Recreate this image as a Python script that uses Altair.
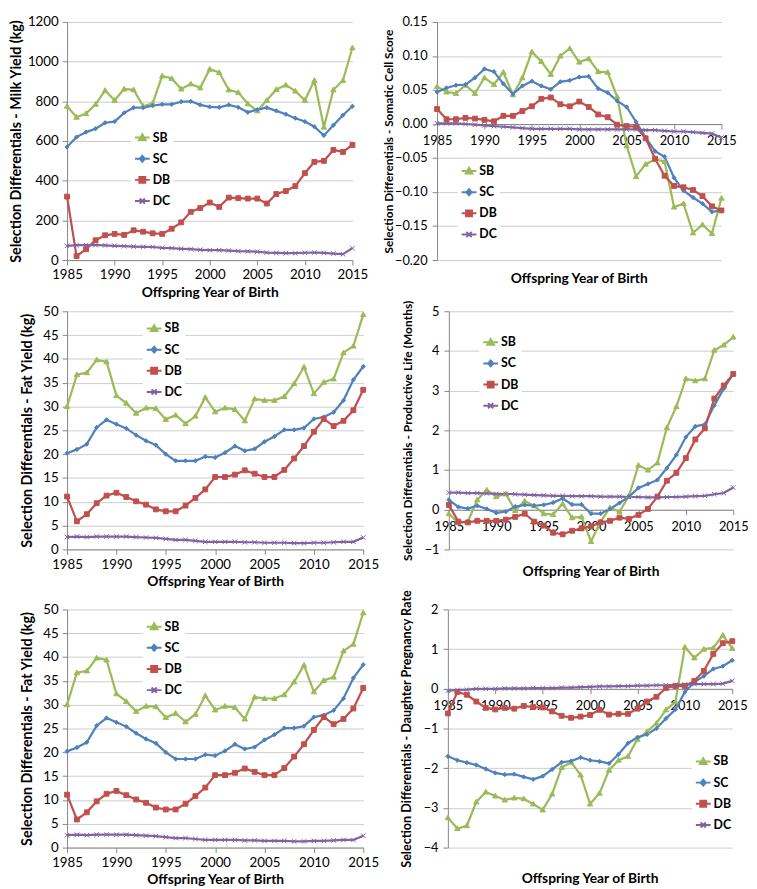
import altair as alt
import pandas as pd

YEARS = list(range(1985, 2016))
SERIES = ["SB", "SC", "DB", "DC"]
COLORS = ["#9BBB59", "#4F81BD", "#C0504D", "#8064A2"]
X_TICKS = [1985, 1990, 1995, 2000, 2005, 2010, 2015]

MILK_SB = [775, 720, 738, 785, 855, 805, 862, 858, 775, 790, 928, 915, 862, 888, 868, 962, 945, 858, 845, 788, 752, 805, 860, 882, 852, 805, 905, 670, 858, 905, 1070]
MILK_SC = [570, 620, 645, 662, 692, 698, 742, 768, 768, 778, 785, 785, 798, 800, 782, 772, 770, 782, 770, 745, 758, 768, 752, 735, 715, 698, 672, 628, 680, 730, 775]
MILK_DB = [320, 20, 55, 100, 125, 132, 127, 150, 143, 135, 132, 158, 190, 243, 262, 290, 268, 315, 312, 310, 310, 285, 333, 348, 373, 438, 495, 500, 555, 545, 580]
MILK_DC = [72, 75, 75, 76, 74, 72, 70, 68, 67, 66, 62, 60, 57, 55, 52, 50, 50, 48, 45, 44, 42, 38, 36, 35, 35, 37, 38, 36, 33, 30, 60]

SCS_SB = [0.055, 0.047, 0.045, 0.057, 0.045, 0.068, 0.058, 0.076, 0.043, 0.068, 0.106, 0.092, 0.073, 0.100, 0.111, 0.091, 0.096, 0.077, 0.076, 0.040, -0.032, -0.077, -0.059, -0.052, -0.055, -0.122, -0.117, -0.160, -0.148, -0.161, -0.109]
SCS_SC = [0.047, 0.053, 0.057, 0.058, 0.068, 0.081, 0.077, 0.059, 0.044, 0.056, 0.063, 0.056, 0.051, 0.062, 0.064, 0.069, 0.070, 0.052, 0.046, 0.034, 0.025, 0.003, -0.020, -0.040, -0.048, -0.079, -0.098, -0.108, -0.117, -0.129, -0.127]
SCS_DB = [0.022, 0.007, 0.007, 0.009, 0.008, 0.006, 0.004, 0.012, 0.012, 0.019, 0.026, 0.037, 0.039, 0.029, 0.026, 0.033, 0.025, 0.014, 0.010, -0.001, -0.003, -0.004, -0.021, -0.051, -0.076, -0.091, -0.093, -0.097, -0.106, -0.121, -0.127]
SCS_DC = [0.001, 0.001, 0.001, 0.000, -0.001, -0.002, -0.003, -0.004, -0.005, -0.006, -0.007, -0.007, -0.007, -0.007, -0.007, -0.008, -0.008, -0.008, -0.008, -0.008, -0.008, -0.008, -0.009, -0.009, -0.010, -0.011, -0.011, -0.012, -0.013, -0.014, -0.020]

FAT_SB = [30.0, 36.7, 37.1, 39.8, 39.4, 32.3, 30.7, 28.6, 29.7, 29.6, 27.3, 28.2, 26.4, 28.0, 31.9, 28.9, 29.7, 29.4, 27.0, 31.6, 31.3, 31.3, 32.1, 34.8, 38.3, 32.7, 35.1, 35.8, 41.3, 42.7, 49.3]
FAT_SC = [20.2, 21.0, 22.1, 25.6, 27.2, 26.3, 25.4, 24.0, 22.8, 21.9, 20.0, 18.6, 18.6, 18.6, 19.5, 19.3, 20.3, 21.7, 20.7, 21.1, 22.6, 23.7, 25.1, 25.1, 25.5, 27.4, 27.8, 28.8, 31.3, 35.6, 38.4]
FAT_DB = [11.1, 5.9, 7.4, 9.7, 11.3, 11.9, 11.0, 10.1, 9.4, 8.4, 8.0, 8.0, 9.2, 10.8, 12.6, 15.2, 15.2, 15.7, 16.6, 15.9, 15.2, 15.2, 16.7, 19.1, 21.7, 24.7, 27.4, 25.9, 27.0, 29.2, 33.5]
FAT_DC = [2.6, 2.7, 2.6, 2.7, 2.7, 2.7, 2.7, 2.6, 2.5, 2.4, 2.2, 2.0, 2.0, 1.8, 1.6, 1.6, 1.6, 1.6, 1.5, 1.5, 1.4, 1.4, 1.4, 1.3, 1.3, 1.4, 1.4, 1.5, 1.6, 1.6, 2.5]

PL_SB = [-0.1, -0.33, -0.3, 0.25, 0.5, 0.33, 0.4, -0.02, 0.22, 0.1, -0.1, -0.12, 0.15, -0.2, -0.18, -0.8, -0.3, 0.05, -0.05, 0.35, 1.12, 1.0, 1.18, 2.07, 2.6, 3.3, 3.25, 3.3, 4.02, 4.15, 4.35]
PL_SC = [0.25, 0.07, 0.03, 0.1, 0.02, -0.08, -0.05, 0.08, 0.12, 0.1, 0.12, 0.18, 0.28, 0.13, 0.13, -0.1, -0.1, 0.02, 0.17, 0.33, 0.55, 0.65, 0.75, 1.05, 1.38, 1.83, 2.1, 2.15, 2.63, 3.05, 3.42]
PL_DB = [0.12, -0.3, -0.32, -0.28, -0.28, -0.28, -0.25, -0.18, -0.1, -0.3, -0.4, -0.58, -0.62, -0.53, -0.47, -0.42, -0.32, -0.28, -0.2, -0.23, -0.13, 0.02, 0.33, 0.73, 0.93, 1.3, 1.77, 2.05, 2.8, 3.13, 3.42]
PL_DC = [0.43, 0.43, 0.42, 0.42, 0.41, 0.4, 0.4, 0.39, 0.38, 0.37, 0.36, 0.35, 0.35, 0.34, 0.34, 0.34, 0.33, 0.33, 0.33, 0.32, 0.32, 0.31, 0.31, 0.32, 0.32, 0.33, 0.34, 0.35, 0.39, 0.42, 0.56]

DPR_SB = [-3.25, -3.52, -3.45, -2.85, -2.6, -2.7, -2.8, -2.75, -2.77, -2.9, -3.05, -2.65, -1.98, -1.85, -2.17, -2.9, -2.63, -2.05, -1.8, -1.7, -1.27, -1.08, -0.87, -0.53, -0.33, 1.05, 0.78, 1.0, 1.03, 1.35, 1.02]
DPR_SC = [-1.7, -1.8, -1.86, -1.92, -2.02, -2.12, -2.16, -2.15, -2.22, -2.28, -2.2, -2.03, -1.85, -1.82, -1.73, -1.8, -1.83, -1.88, -1.65, -1.37, -1.22, -1.15, -1.0, -0.75, -0.52, -0.08, 0.17, 0.32, 0.5, 0.57, 0.72]
DPR_DB = [-0.62, -0.08, -0.15, -0.32, -0.48, -0.52, -0.48, -0.5, -0.43, -0.46, -0.47, -0.57, -0.68, -0.73, -0.7, -0.66, -0.53, -0.65, -0.63, -0.63, -0.5, -0.32, -0.2, 0.02, 0.07, 0.07, 0.2, 0.45, 0.88, 1.15, 1.2]
DPR_DC = [-0.05, -0.03, -0.02, 0.0, 0.0, 0.0, 0.01, 0.01, 0.01, 0.02, 0.02, 0.02, 0.03, 0.03, 0.04, 0.05, 0.06, 0.06, 0.07, 0.07, 0.08, 0.08, 0.09, 0.09, 0.1, 0.11, 0.12, 0.12, 0.12, 0.13, 0.2]

# marker shapes (unit paths) and legend symbols (line + marker)
POINT_SHAPES = [
    "M0,-1L1,0.75L-1,0.75Z",
    "M0,-0.8L0.75,0L0,0.8L-0.75,0Z",
    "M-0.9,-0.9H0.9V0.9H-0.9Z",
    "M-0.85,-0.85L0.85,0.85M-0.85,0.85L0.85,-0.85",
]
LEGEND_SHAPES = [
    "M-1,0H1M0,-0.45L0.45,0.35L-0.45,0.35Z",
    "M-1,0H1M0,-0.4L0.35,0L0,0.4L-0.35,0Z",
    "M-1,0H1M-0.4,-0.4H0.4V0.4H-0.4Z",
    "M-1,0H1M-0.35,-0.35L0.35,0.35M-0.35,0.35L0.35,-0.35",
]

FONT = "Lato"
AXIS_GRAY = "#868686"
GRID_GRAY = "#CCCCCC"
H = 242
XTITLE = "Offspring Year of Birth"


def make_df(series_values):
    rows = []
    for name, vals in zip(SERIES, series_values):
        for yr, v in zip(YEARS, vals):
            rows.append({"year": yr, "series": name, "value": v})
    return pd.DataFrame(rows)


def panel(series_values, ytitle, ydomain, yvalues, yfmt, width, legend_x, legend_y,
          y_extent, y_title_pad, ytitle_size=14.5, label_size=13.5, zero_axis=False):
    df = make_df(series_values)
    ymin, ymax = ydomain
    xaxis_kw = dict(values=X_TICKS, format="d", grid=False, tickSize=5, labelFlush=False,
                    labelFontSize=label_size, domainColor=AXIS_GRAY,
                    tickColor=AXIS_GRAY, labelColor="black")
    if zero_axis:
        xaxis = alt.Axis(title=None, offset=-H * (0 - ymin) / (ymax - ymin), labelPadding=6,
                         **xaxis_kw)
        ylab_pad = 5
    else:
        xaxis = alt.Axis(title=XTITLE, titlePadding=4, titleFontSize=14, labelPadding=3,
                         **xaxis_kw)
        ylab_pad = 4
    x = alt.X("year:Q", scale=alt.Scale(domain=[1985, 2015], nice=False, zero=False), axis=xaxis)
    y = alt.Y("value:Q", scale=alt.Scale(domain=list(ydomain), nice=False, zero=False),
              axis=alt.Axis(values=yvalues, format=yfmt, title=ytitle, titleFontSize=ytitle_size,
                            grid=True, gridColor=GRID_GRAY, tickSize=5, labelPadding=ylab_pad,
                            labelFontSize=label_size, minExtent=y_extent, maxExtent=y_extent,
                            titlePadding=y_title_pad, domainColor=AXIS_GRAY, tickColor=AXIS_GRAY,
                            labelColor="black"))
    cscale = alt.Scale(domain=SERIES, range=COLORS)
    base = alt.Chart(df)
    lines = base.mark_line(strokeWidth=2.25).encode(
        x=x, y=y, color=alt.Color("series:N", scale=cscale, legend=None, sort=SERIES),
        order=alt.Order("year:Q"))
    points = base.mark_point(opacity=1, size=30, strokeWidth=1).encode(
        x=x, y=y,
        fill=alt.Fill("series:N", scale=cscale, legend=None),
        stroke=alt.Stroke("series:N", scale=cscale, legend=None),
        shape=alt.Shape("series:N", scale=alt.Scale(domain=SERIES, range=POINT_SHAPES), legend=None))
    leg = alt.Legend(orient="none", legendX=legend_x, legendY=legend_y, title=None,
                     labelFont=FONT, labelFontSize=12.5, labelFontWeight="bold", labelColor="black",
                     fillColor="white", padding=3, rowPadding=5.5, labelOffset=2,
                     symbolSize=225, symbolStrokeWidth=2)
    legend_layer = base.mark_point(opacity=1, size=225, strokeWidth=2).encode(
        x=x, y=y,
        fill=alt.Fill("series:N", scale=cscale, legend=leg),
        stroke=alt.Stroke("series:N", scale=cscale, legend=leg),
        shape=alt.Shape("series:N", scale=alt.Scale(domain=SERIES, range=LEGEND_SHAPES), legend=leg),
    ).transform_filter("datum.year < 0")
    layered = alt.layer(lines, points, legend_layer).resolve_scale(
        fill="independent", stroke="independent", shape="independent")
    props = dict(width=width, height=H)
    if zero_axis:
        props["title"] = alt.TitleParams(XTITLE, orient="bottom", frame="group",
                                         anchor="middle", font=FONT, fontSize=14, fontWeight="bold",
                                         color="black", offset=5)
    return layered.properties(**props)


p1 = panel([MILK_SB, MILK_SC, MILK_DB, MILK_DC], "Selection Differentials - Milk Yield (kg)",
           (0, 1200), [0, 200, 400, 600, 800, 1000, 1200], "d", 290, 65, 106, 40, 4)
p2 = panel([SCS_SB, SCS_SC, SCS_DB, SCS_DC], "Selection Differentials - Somatic Cell Score",
           (-0.20, 0.15), [-0.20, -0.15, -0.10, -0.05, 0.0, 0.05, 0.10, 0.15], ".2f", 289, 21, 140,
           38, 4, ytitle_size=12, label_size=13, zero_axis=True)
p3 = panel([FAT_SB, FAT_SC, FAT_DB, FAT_DC], "Selection Differentials - Fat Yield (kg)",
           (0, 50), [0, 5, 10, 15, 20, 25, 30, 35, 40, 45, 50], "d", 301, 77, 6, 24, 9)
p4 = panel([PL_SB, PL_SC, PL_DB, PL_DC], "Selection Differentials - Productive Life (Months)",
           (-1, 5), [-1, 0, 1, 2, 3, 4, 5], "d", 289, 31, 20, 25, 10, ytitle_size=12.2,
           label_size=13, zero_axis=True)
p5 = panel([FAT_SB, FAT_SC, FAT_DB, FAT_DC], "Selection Differentials - Fat Yield (kg)",
           (0, 50), [0, 5, 10, 15, 20, 25, 30, 35, 40, 45, 50], "d", 301, 77, 6, 24, 9)
p6 = panel([DPR_SB, DPR_SC, DPR_DB, DPR_DC], "Selection Differentials - Daughter Pregnancy Rate",
           (-4, 2), [-4, -3, -2, -1, 0, 1, 2], "d", 289, 248, 143, 25, 10, ytitle_size=12.8,
           label_size=13, zero_axis=True)

chart = alt.vconcat(
    alt.hconcat(p1, p2, spacing=15),
    alt.hconcat(p3, p4, spacing=22),
    alt.hconcat(p5, p6, spacing=21),
    spacing=0,
).properties(padding=0).configure_view(strokeWidth=0).configure_axis(
    labelFont=FONT, titleFont=FONT, titleFontWeight="bold", titleFontSize=12, titleColor="black"
)

chart.save("out.html", embed_options={"renderer": "svg", "actions": False})
